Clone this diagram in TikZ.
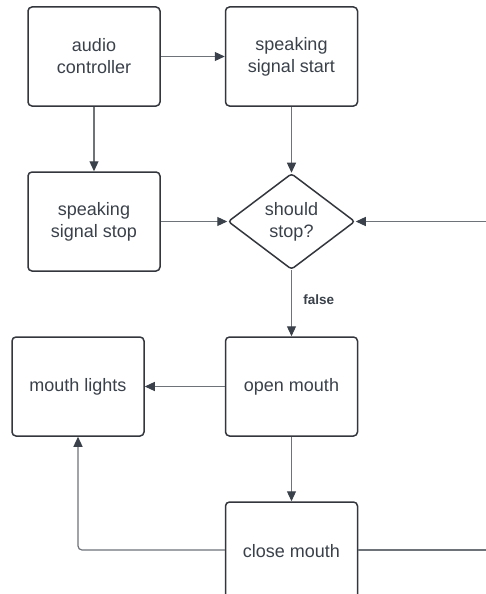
\documentclass[tikz,border=0pt]{standalone}
\usepackage{fontspec}
\setmainfont{Liberation Sans}
\usetikzlibrary{arrows.meta,shapes.geometric}
\definecolor{ink}{HTML}{3A414A}
\definecolor{wire}{HTML}{6E737A}
\definecolor{frame}{HTML}{33373D}
\tikzset{
  stepbox/.style={draw=frame, line width=1.5pt, rounded corners=4pt,
    minimum width=132pt, minimum height=99pt, align=center, text=ink,
    font=\fontsize{18}{22}\selectfont, inner sep=0pt},
  decision/.style={draw=frame, line width=1.5pt, shape=diamond, rounded corners=3pt,
    minimum width=127pt, minimum height=96pt, aspect=1.32, align=center, text=ink,
    font=\fontsize{18}{22}\selectfont, inner sep=0pt},
  link/.style={draw=wire, line width=1.2pt,
    -{Triangle[length=10pt,width=9pt,color=ink]}},
  plain/.style={draw=wire, line width=1.2pt}
}
\begin{document}
\begin{tikzpicture}[x=1pt,y=-1pt]
  \clip (0,0) rectangle (486,594);
  \fill[white] (0,0) rectangle (486,594);

  \node[stepbox] (audio) at (94,56.5) {audio\\controller};
  \node[stepbox] (start) at (291.5,56.5) {speaking\\signal start};
  \node[stepbox] (stop) at (94,221.5) {speaking\\signal stop};
  \node[decision] (should) at (291.5,221.5) {should\\stop?};
  \node[stepbox] (lights) at (78,386.5) {mouth lights};
  \node[stepbox] (open) at (291.5,386.5) {open mouth};
  \node[stepbox] (close) at (291.5,551.5) {close mouth};

  \coordinate (rin) at (486,221.5);
  \coordinate (rout) at (486,550);
  \coordinate (bend) at (78,550);

  \draw[link] (audio) -- (start);
  \draw[link] (audio) -- (stop);
  \draw[link] (start) -- (should);
  \draw[link] (stop.east) -- (should.west);
  \draw[link] (rin) -- (should.east);
  \draw[link] (should.south) -- node[right=8pt, pos=0.45, font=\bfseries\fontsize{13.5}{15}\selectfont, text=ink] {false} (open.north);
  \draw[link] (open) -- (lights);
  \draw[link] (open) -- (close);
  \draw[link, rounded corners=4pt] (close.west |- bend) -- (bend) -- (lights.south);
  \draw[plain] (close.east |- rout) -- (rout);
\end{tikzpicture}
\end{document}
